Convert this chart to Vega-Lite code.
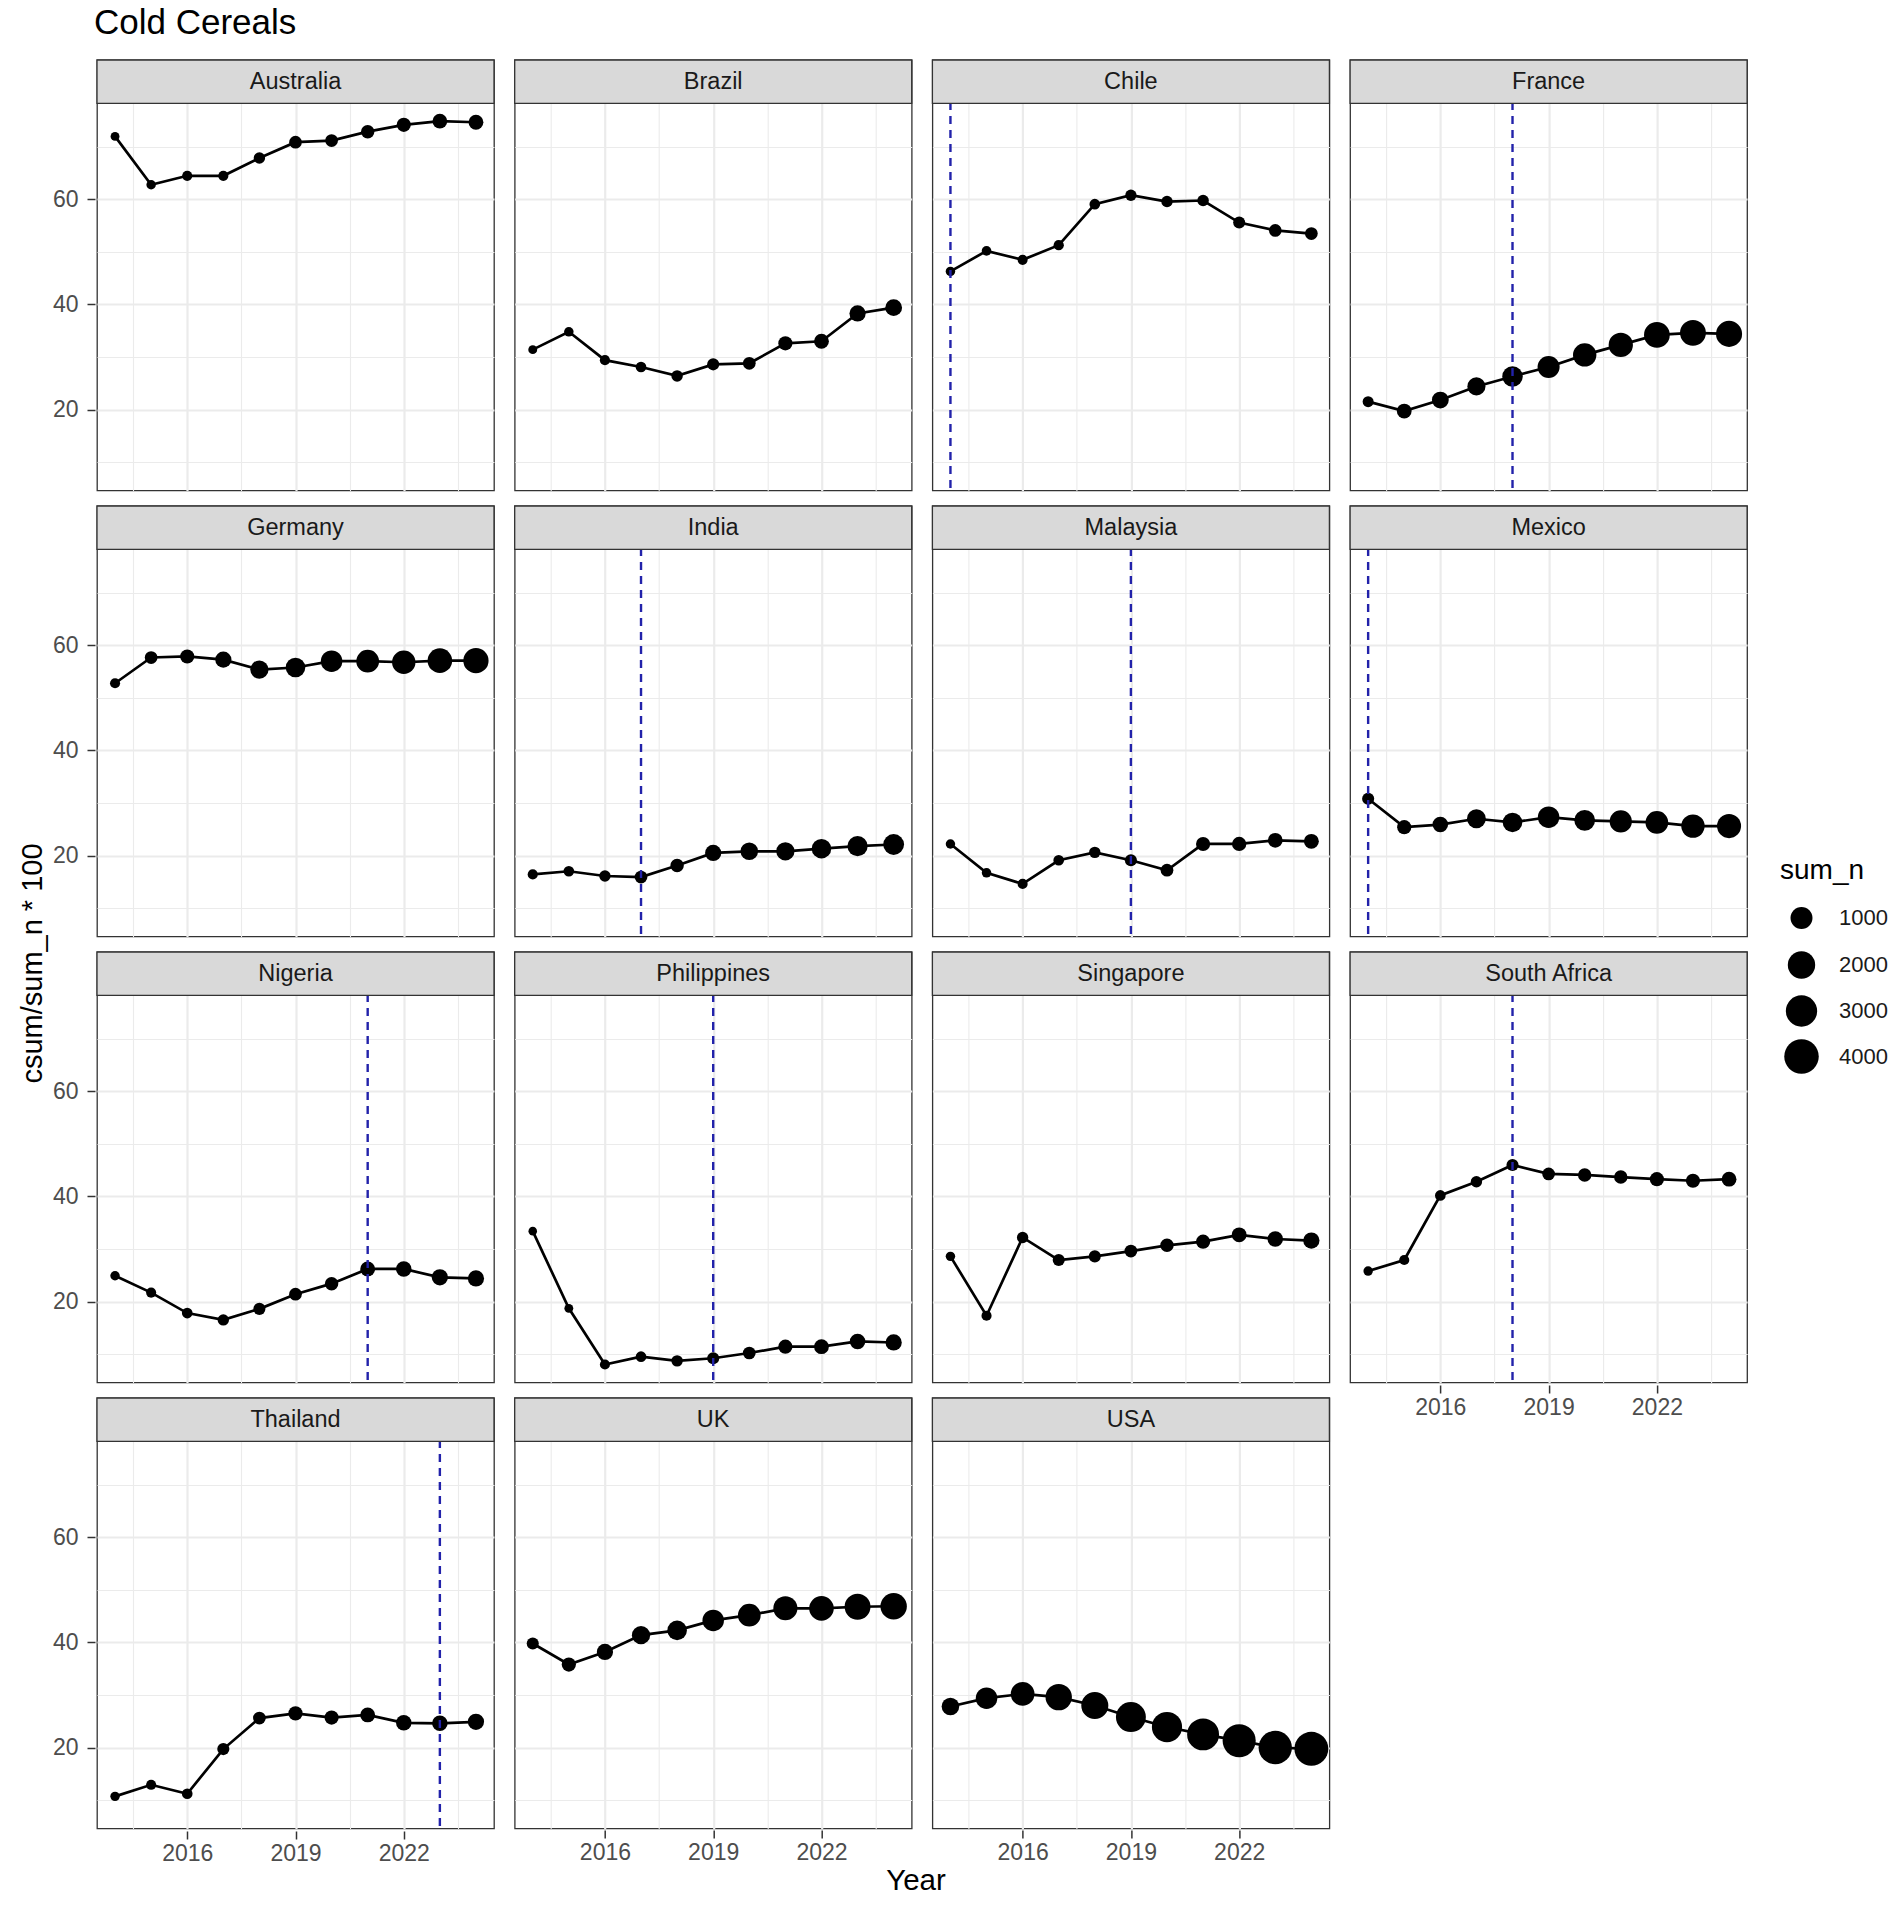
{
  "$schema": "https://vega.github.io/schema/vega-lite/v6.json",
  "background": "white",
  "padding": {"left": 18, "top": 6, "right": 5, "bottom": 5},
  "title": {"text": "Cold Cereals", "anchor": "start", "dx": 76, "fontSize": 35, "font": "Liberation Sans", "fontWeight": "normal", "color": "black", "offset": 17},
  "config": {
    "font": "Liberation Sans",
    "view": {"stroke": "#333333", "strokeWidth": 1.3},
    "headerRow": {"labels": false, "title": null}
  },
  "datasets": {
    "cereal": [
      {"country":"Australia","year":2014,"value":72.0,"sum_n":5,"event":0},
      {"country":"Australia","year":2015,"value":62.8,"sum_n":15,"event":0},
      {"country":"Australia","year":2016,"value":64.5,"sum_n":30,"event":0},
      {"country":"Australia","year":2017,"value":64.5,"sum_n":30,"event":0},
      {"country":"Australia","year":2018,"value":67.9,"sum_n":70,"event":0},
      {"country":"Australia","year":2019,"value":70.9,"sum_n":120,"event":0},
      {"country":"Australia","year":2020,"value":71.2,"sum_n":125,"event":0},
      {"country":"Australia","year":2021,"value":72.9,"sum_n":160,"event":0},
      {"country":"Australia","year":2022,"value":74.2,"sum_n":200,"event":0},
      {"country":"Australia","year":2023,"value":74.9,"sum_n":240,"event":0},
      {"country":"Australia","year":2024,"value":74.7,"sum_n":245,"event":0},
      {"country":"Brazil","year":2014,"value":31.4,"sum_n":5,"event":0},
      {"country":"Brazil","year":2015,"value":34.8,"sum_n":15,"event":0},
      {"country":"Brazil","year":2016,"value":29.4,"sum_n":30,"event":0},
      {"country":"Brazil","year":2017,"value":28.1,"sum_n":45,"event":0},
      {"country":"Brazil","year":2018,"value":26.4,"sum_n":70,"event":0},
      {"country":"Brazil","year":2019,"value":28.6,"sum_n":95,"event":0},
      {"country":"Brazil","year":2020,"value":28.8,"sum_n":125,"event":0},
      {"country":"Brazil","year":2021,"value":32.6,"sum_n":200,"event":0},
      {"country":"Brazil","year":2022,"value":33.0,"sum_n":245,"event":0},
      {"country":"Brazil","year":2023,"value":38.3,"sum_n":350,"event":0},
      {"country":"Brazil","year":2024,"value":39.4,"sum_n":400,"event":0},
      {"country":"Chile","year":2014,"value":46.3,"sum_n":15,"event":1},
      {"country":"Chile","year":2015,"value":50.2,"sum_n":18,"event":0},
      {"country":"Chile","year":2016,"value":48.5,"sum_n":28,"event":0},
      {"country":"Chile","year":2017,"value":51.3,"sum_n":32,"event":0},
      {"country":"Chile","year":2018,"value":59.1,"sum_n":45,"event":0},
      {"country":"Chile","year":2019,"value":60.8,"sum_n":65,"event":0},
      {"country":"Chile","year":2020,"value":59.6,"sum_n":68,"event":0},
      {"country":"Chile","year":2021,"value":59.8,"sum_n":72,"event":0},
      {"country":"Chile","year":2022,"value":55.6,"sum_n":95,"event":0},
      {"country":"Chile","year":2023,"value":54.1,"sum_n":120,"event":0},
      {"country":"Chile","year":2024,"value":53.5,"sum_n":125,"event":0},
      {"country":"France","year":2014,"value":21.5,"sum_n":55,"event":0},
      {"country":"France","year":2015,"value":19.7,"sum_n":245,"event":0},
      {"country":"France","year":2016,"value":21.8,"sum_n":400,"event":0},
      {"country":"France","year":2017,"value":24.4,"sum_n":525,"event":0},
      {"country":"France","year":2018,"value":26.3,"sum_n":800,"event":1},
      {"country":"France","year":2019,"value":28.1,"sum_n":1010,"event":0},
      {"country":"France","year":2020,"value":30.4,"sum_n":1220,"event":0},
      {"country":"France","year":2021,"value":32.3,"sum_n":1380,"event":0},
      {"country":"France","year":2022,"value":34.2,"sum_n":1650,"event":0},
      {"country":"France","year":2023,"value":34.6,"sum_n":1690,"event":0},
      {"country":"France","year":2024,"value":34.4,"sum_n":1720,"event":0},
      {"country":"Germany","year":2014,"value":52.8,"sum_n":29,"event":0},
      {"country":"Germany","year":2015,"value":57.7,"sum_n":124,"event":0},
      {"country":"Germany","year":2016,"value":57.9,"sum_n":203,"event":0},
      {"country":"Germany","year":2017,"value":57.3,"sum_n":350,"event":0},
      {"country":"Germany","year":2018,"value":55.4,"sum_n":536,"event":0},
      {"country":"Germany","year":2019,"value":55.8,"sum_n":679,"event":0},
      {"country":"Germany","year":2020,"value":57.0,"sum_n":931,"event":0},
      {"country":"Germany","year":2021,"value":57.0,"sum_n":1116,"event":0},
      {"country":"Germany","year":2022,"value":56.8,"sum_n":1222,"event":0},
      {"country":"Germany","year":2023,"value":57.1,"sum_n":1433,"event":0},
      {"country":"Germany","year":2024,"value":57.1,"sum_n":1554,"event":0},
      {"country":"India","year":2014,"value":16.4,"sum_n":29,"event":0},
      {"country":"India","year":2015,"value":17.0,"sum_n":45,"event":0},
      {"country":"India","year":2016,"value":16.1,"sum_n":68,"event":0},
      {"country":"India","year":2017,"value":15.9,"sum_n":124,"event":1},
      {"country":"India","year":2018,"value":18.1,"sum_n":161,"event":0},
      {"country":"India","year":2019,"value":20.5,"sum_n":350,"event":0},
      {"country":"India","year":2020,"value":20.8,"sum_n":467,"event":0},
      {"country":"India","year":2021,"value":20.8,"sum_n":536,"event":0},
      {"country":"India","year":2022,"value":21.3,"sum_n":679,"event":0},
      {"country":"India","year":2023,"value":21.8,"sum_n":762,"event":0},
      {"country":"India","year":2024,"value":22.1,"sum_n":838,"event":0},
      {"country":"Malaysia","year":2014,"value":22.2,"sum_n":14,"event":0},
      {"country":"Malaysia","year":2015,"value":16.7,"sum_n":16,"event":0},
      {"country":"Malaysia","year":2016,"value":14.6,"sum_n":28,"event":0},
      {"country":"Malaysia","year":2017,"value":19.1,"sum_n":45,"event":0},
      {"country":"Malaysia","year":2018,"value":20.6,"sum_n":68,"event":0},
      {"country":"Malaysia","year":2019,"value":19.1,"sum_n":95,"event":1},
      {"country":"Malaysia","year":2020,"value":17.2,"sum_n":125,"event":0},
      {"country":"Malaysia","year":2021,"value":22.2,"sum_n":200,"event":0},
      {"country":"Malaysia","year":2022,"value":22.2,"sum_n":210,"event":0},
      {"country":"Malaysia","year":2023,"value":22.9,"sum_n":240,"event":0},
      {"country":"Malaysia","year":2024,"value":22.7,"sum_n":250,"event":0},
      {"country":"Mexico","year":2014,"value":30.8,"sum_n":96,"event":1},
      {"country":"Mexico","year":2015,"value":25.4,"sum_n":203,"event":0},
      {"country":"Mexico","year":2016,"value":25.9,"sum_n":294,"event":0},
      {"country":"Mexico","year":2017,"value":27.0,"sum_n":600,"event":0},
      {"country":"Mexico","year":2018,"value":26.3,"sum_n":679,"event":0},
      {"country":"Mexico","year":2019,"value":27.3,"sum_n":931,"event":0},
      {"country":"Mexico","year":2020,"value":26.7,"sum_n":838,"event":0},
      {"country":"Mexico","year":2021,"value":26.5,"sum_n":1028,"event":0},
      {"country":"Mexico","year":2022,"value":26.3,"sum_n":1116,"event":0},
      {"country":"Mexico","year":2023,"value":25.6,"sum_n":1222,"event":0},
      {"country":"Mexico","year":2024,"value":25.6,"sum_n":1334,"event":0},
      {"country":"Nigeria","year":2014,"value":24.9,"sum_n":14,"event":0},
      {"country":"Nigeria","year":2015,"value":21.7,"sum_n":29,"event":0},
      {"country":"Nigeria","year":2016,"value":17.8,"sum_n":45,"event":0},
      {"country":"Nigeria","year":2017,"value":16.5,"sum_n":68,"event":0},
      {"country":"Nigeria","year":2018,"value":18.6,"sum_n":96,"event":0},
      {"country":"Nigeria","year":2019,"value":21.4,"sum_n":124,"event":0},
      {"country":"Nigeria","year":2020,"value":23.4,"sum_n":161,"event":0},
      {"country":"Nigeria","year":2021,"value":26.2,"sum_n":243,"event":1},
      {"country":"Nigeria","year":2022,"value":26.2,"sum_n":294,"event":0},
      {"country":"Nigeria","year":2023,"value":24.6,"sum_n":350,"event":0},
      {"country":"Nigeria","year":2024,"value":24.4,"sum_n":350,"event":0},
      {"country":"Philippines","year":2014,"value":33.4,"sum_n":1,"event":0},
      {"country":"Philippines","year":2015,"value":18.7,"sum_n":5,"event":0},
      {"country":"Philippines","year":2016,"value":8.0,"sum_n":29,"event":0},
      {"country":"Philippines","year":2017,"value":9.5,"sum_n":45,"event":0},
      {"country":"Philippines","year":2018,"value":8.7,"sum_n":68,"event":0},
      {"country":"Philippines","year":2019,"value":9.2,"sum_n":96,"event":1},
      {"country":"Philippines","year":2020,"value":10.2,"sum_n":124,"event":0},
      {"country":"Philippines","year":2021,"value":11.4,"sum_n":203,"event":0},
      {"country":"Philippines","year":2022,"value":11.4,"sum_n":243,"event":0},
      {"country":"Philippines","year":2023,"value":12.4,"sum_n":294,"event":0},
      {"country":"Philippines","year":2024,"value":12.2,"sum_n":350,"event":0},
      {"country":"Singapore","year":2014,"value":28.6,"sum_n":14,"event":0},
      {"country":"Singapore","year":2015,"value":17.3,"sum_n":29,"event":0},
      {"country":"Singapore","year":2016,"value":32.2,"sum_n":68,"event":0},
      {"country":"Singapore","year":2017,"value":27.9,"sum_n":96,"event":0},
      {"country":"Singapore","year":2018,"value":28.6,"sum_n":96,"event":0},
      {"country":"Singapore","year":2019,"value":29.6,"sum_n":124,"event":0},
      {"country":"Singapore","year":2020,"value":30.7,"sum_n":161,"event":0},
      {"country":"Singapore","year":2021,"value":31.4,"sum_n":203,"event":0},
      {"country":"Singapore","year":2022,"value":32.7,"sum_n":243,"event":0},
      {"country":"Singapore","year":2023,"value":31.9,"sum_n":294,"event":0},
      {"country":"Singapore","year":2024,"value":31.6,"sum_n":350,"event":0},
      {"country":"South Africa","year":2014,"value":25.8,"sum_n":14,"event":0},
      {"country":"South Africa","year":2015,"value":27.9,"sum_n":29,"event":0},
      {"country":"South Africa","year":2016,"value":40.2,"sum_n":45,"event":0},
      {"country":"South Africa","year":2017,"value":42.8,"sum_n":68,"event":0},
      {"country":"South Africa","year":2018,"value":46.0,"sum_n":96,"event":1},
      {"country":"South Africa","year":2019,"value":44.3,"sum_n":124,"event":0},
      {"country":"South Africa","year":2020,"value":44.1,"sum_n":161,"event":0},
      {"country":"South Africa","year":2021,"value":43.7,"sum_n":161,"event":0},
      {"country":"South Africa","year":2022,"value":43.3,"sum_n":203,"event":0},
      {"country":"South Africa","year":2023,"value":43.0,"sum_n":203,"event":0},
      {"country":"South Africa","year":2024,"value":43.3,"sum_n":243,"event":0},
      {"country":"Thailand","year":2014,"value":10.7,"sum_n":14,"event":0},
      {"country":"Thailand","year":2015,"value":12.9,"sum_n":29,"event":0},
      {"country":"Thailand","year":2016,"value":11.2,"sum_n":45,"event":0},
      {"country":"Thailand","year":2017,"value":19.7,"sum_n":96,"event":0},
      {"country":"Thailand","year":2018,"value":25.6,"sum_n":124,"event":0},
      {"country":"Thailand","year":2019,"value":26.5,"sum_n":203,"event":0},
      {"country":"Thailand","year":2020,"value":25.7,"sum_n":203,"event":0},
      {"country":"Thailand","year":2021,"value":26.2,"sum_n":243,"event":0},
      {"country":"Thailand","year":2022,"value":24.7,"sum_n":294,"event":0},
      {"country":"Thailand","year":2023,"value":24.6,"sum_n":294,"event":1},
      {"country":"Thailand","year":2024,"value":24.9,"sum_n":350,"event":0},
      {"country":"UK","year":2014,"value":39.8,"sum_n":96,"event":0},
      {"country":"UK","year":2015,"value":35.8,"sum_n":203,"event":0},
      {"country":"UK","year":2016,"value":38.2,"sum_n":350,"event":0},
      {"country":"UK","year":2017,"value":41.4,"sum_n":536,"event":0},
      {"country":"UK","year":2018,"value":42.3,"sum_n":679,"event":0},
      {"country":"UK","year":2019,"value":44.2,"sum_n":931,"event":0},
      {"country":"UK","year":2020,"value":45.2,"sum_n":1116,"event":0},
      {"country":"UK","year":2021,"value":46.5,"sum_n":1334,"event":0},
      {"country":"UK","year":2022,"value":46.5,"sum_n":1433,"event":0},
      {"country":"UK","year":2023,"value":46.8,"sum_n":1680,"event":0},
      {"country":"UK","year":2024,"value":46.9,"sum_n":1790,"event":0},
      {"country":"USA","year":2014,"value":27.8,"sum_n":470,"event":0},
      {"country":"USA","year":2015,"value":29.4,"sum_n":930,"event":0},
      {"country":"USA","year":2016,"value":30.2,"sum_n":1270,"event":0},
      {"country":"USA","year":2017,"value":29.6,"sum_n":1790,"event":0},
      {"country":"USA","year":2018,"value":28.0,"sum_n":1925,"event":0},
      {"country":"USA","year":2019,"value":25.8,"sum_n":2620,"event":0},
      {"country":"USA","year":2020,"value":23.9,"sum_n":2690,"event":0},
      {"country":"USA","year":2021,"value":22.5,"sum_n":3175,"event":0},
      {"country":"USA","year":2022,"value":21.3,"sum_n":3535,"event":0},
      {"country":"USA","year":2023,"value":20.0,"sum_n":3615,"event":0},
      {"country":"USA","year":2024,"value":19.75,"sum_n":3805,"event":0}
    ]
  },
  "spacing": 4,
  "hconcat": [
    {
      "data": {"values": [{"label": "csum/sum_n * 100"}]},
      "width": 30,
      "height": 1807,
      "view": {"stroke": null},
      "mark": {"type": "text", "angle": 270, "fontSize": 29, "color": "black", "align": "center", "baseline": "middle"},
      "encoding": {"text": {"field": "label", "type": "nominal"}}
    },
    {
      "spacing": 1,
      "vconcat": [
        {
          "spacing": 16.7,
          "hconcat": [
            {
              "data": {"name": "cereal"},
              "transform": [{"filter": {"field": "country", "oneOf": ["Australia", "Germany", "Nigeria", "Thailand"]}}],
              "facet": {"row": {"field": "country", "type": "nominal", "header": {"title": null, "labels": false}}},
              "spacing": {"row": 11},
              "spec": {
                "width": 397, "height": 430.4,
                "layer": [
                  {"mark": {"type": "line", "color": "black", "strokeWidth": 2.7},
                   "encoding": {
                     "x": {"field": "year", "type": "quantitative", "title": null, "scale": {"domain": [2013.5, 2024.5], "nice": false, "zero": false},
                       "axis": {"values": [2014.5, 2016, 2017.5, 2019, 2020.5, 2022, 2023.5], "format": "d", "labelExpr": "datum.value % 1 === 0 ? datum.label : ''", "domain": false, "tickSize": 8, "tickWidth": 1.5, "tickColor": {"condition": {"test": "datum.value % 1 === 0", "value": "#333333"}, "value": "transparent"}, "gridColor": "#EBEBEB", "gridWidth": {"condition": {"test": "datum.value % 1 === 0", "value": 2.2}, "value": 1.1}, "labelFontSize": 23, "labelColor": "#4D4D4D", "labelPadding": 3, "labelFlush": false, "labelOverlap": false}},
                     "y": {"field": "value", "type": "quantitative", "title": null, "scale": {"domain": [4.6, 86.55], "nice": false, "zero": false},
                       "axis": {"values": [10, 20, 30, 40, 50, 60, 70], "labelExpr": "datum.value % 20 === 0 ? datum.label : ''", "domain": false, "tickSize": 8, "tickWidth": 1.5, "tickColor": {"condition": {"test": "datum.value % 20 === 0", "value": "#333333"}, "value": "transparent"}, "gridColor": "#EBEBEB", "gridWidth": {"condition": {"test": "datum.value % 20 === 0", "value": 2.2}, "value": 1.1}, "labelFontSize": 23, "labelColor": "#4D4D4D", "labelPadding": 9, "labelOverlap": false}}
                   }},
                  {"mark": {"type": "circle", "color": "black", "opacity": 1},
                   "encoding": {
                     "x": {"field": "year", "type": "quantitative"},
                     "y": {"field": "value", "type": "quantitative"},
                     "size": {"field": "sum_n", "type": "quantitative", "scale": {"type": "pow", "exponent": 0.72, "domain": [0, 4300], "range": [70, 1250]},
                       "legend": {"title": "sum_n", "values": [1000, 2000, 3000, 4000], "format": "d", "orient": "none", "legendX": 1762, "legendY": 797, "titleFontSize": 28, "titleFontWeight": "normal", "titleColor": "black", "titlePadding": 22, "labelFontSize": 22, "labelColor": "#1A1A1A", "labelOffset": 20, "symbolOffset": 4, "gridAlign": "all", "rowPadding": 9, "symbolStrokeWidth": 0, "symbolFillColor": "black"}}
                   }},
                  {"transform": [{"filter": "datum.event == 1"}], "mark": {"type": "rule", "color": "#2222AA", "strokeDash": [8, 6], "strokeWidth": 2.4}, "encoding": {"x": {"field": "year", "type": "quantitative"}}},
                  {"transform": [{"filter": "datum.year == 2014"}], "mark": {"type": "rect", "fill": "#D9D9D9", "stroke": "#333333", "strokeWidth": 1.3},
                   "encoding": {"x": {"datum": 2013.5, "type": "quantitative"}, "x2": {"datum": 2024.5}, "y": {"datum": 86.55, "type": "quantitative"}, "y2": {"datum": 78.3}}},
                  {"transform": [{"filter": "datum.year == 2014"}], "mark": {"type": "text", "fontSize": 23.5, "color": "#1A1A1A", "align": "center", "baseline": "middle"},
                   "encoding": {"x": {"datum": 2019, "type": "quantitative"}, "y": {"datum": 82.43, "type": "quantitative"}, "text": {"field": "country", "type": "nominal"}}}
                ]
              }
            },
            {
              "data": {"name": "cereal"},
              "transform": [{"filter": {"field": "country", "oneOf": ["Brazil", "India", "Philippines", "UK"]}}],
              "facet": {"row": {"field": "country", "type": "nominal", "header": {"title": null, "labels": false}}},
              "spacing": {"row": 11},
              "spec": {
                "width": 397, "height": 430.4,
                "layer": [
                  {"mark": {"type": "line", "color": "black", "strokeWidth": 2.7},
                   "encoding": {
                     "x": {"field": "year", "type": "quantitative", "title": null, "scale": {"domain": [2013.5, 2024.5], "nice": false, "zero": false},
                       "axis": {"values": [2014.5, 2016, 2017.5, 2019, 2020.5, 2022, 2023.5], "format": "d", "labelExpr": "datum.value % 1 === 0 ? datum.label : ''", "domain": false, "tickSize": 8, "tickWidth": 1.5, "tickColor": {"condition": {"test": "datum.value % 1 === 0", "value": "#333333"}, "value": "transparent"}, "gridColor": "#EBEBEB", "gridWidth": {"condition": {"test": "datum.value % 1 === 0", "value": 2.2}, "value": 1.1}, "labelFontSize": 23, "labelColor": "#4D4D4D", "labelPadding": 3, "labelFlush": false, "labelOverlap": false}},
                     "y": {"field": "value", "type": "quantitative", "title": null, "scale": {"domain": [4.6, 86.55], "nice": false, "zero": false},
                       "axis": {"values": [10, 20, 30, 40, 50, 60, 70], "labels": false, "ticks": false, "domain": false, "gridColor": "#EBEBEB", "gridWidth": {"condition": {"test": "datum.value % 20 === 0", "value": 2.2}, "value": 1.1}}}
                   }},
                  {"mark": {"type": "circle", "color": "black", "opacity": 1},
                   "encoding": {
                     "x": {"field": "year", "type": "quantitative"},
                     "y": {"field": "value", "type": "quantitative"},
                     "size": {"field": "sum_n", "type": "quantitative", "scale": {"type": "pow", "exponent": 0.72, "domain": [0, 4300], "range": [70, 1250]},
                       "legend": {"title": "sum_n", "values": [1000, 2000, 3000, 4000], "format": "d", "orient": "none", "legendX": 1762, "legendY": 797, "titleFontSize": 28, "titleFontWeight": "normal", "titleColor": "black", "titlePadding": 22, "labelFontSize": 22, "labelColor": "#1A1A1A", "labelOffset": 20, "symbolOffset": 4, "gridAlign": "all", "rowPadding": 9, "symbolStrokeWidth": 0, "symbolFillColor": "black"}}
                   }},
                  {"transform": [{"filter": "datum.event == 1"}], "mark": {"type": "rule", "color": "#2222AA", "strokeDash": [8, 6], "strokeWidth": 2.4}, "encoding": {"x": {"field": "year", "type": "quantitative"}}},
                  {"transform": [{"filter": "datum.year == 2014"}], "mark": {"type": "rect", "fill": "#D9D9D9", "stroke": "#333333", "strokeWidth": 1.3},
                   "encoding": {"x": {"datum": 2013.5, "type": "quantitative"}, "x2": {"datum": 2024.5}, "y": {"datum": 86.55, "type": "quantitative"}, "y2": {"datum": 78.3}}},
                  {"transform": [{"filter": "datum.year == 2014"}], "mark": {"type": "text", "fontSize": 23.5, "color": "#1A1A1A", "align": "center", "baseline": "middle"},
                   "encoding": {"x": {"datum": 2019, "type": "quantitative"}, "y": {"datum": 82.43, "type": "quantitative"}, "text": {"field": "country", "type": "nominal"}}}
                ]
              }
            },
            {
              "data": {"name": "cereal"},
              "transform": [{"filter": {"field": "country", "oneOf": ["Chile", "Malaysia", "Singapore", "USA"]}}],
              "facet": {"row": {"field": "country", "type": "nominal", "header": {"title": null, "labels": false}}},
              "spacing": {"row": 11},
              "spec": {
                "width": 397, "height": 430.4,
                "layer": [
                  {"mark": {"type": "line", "color": "black", "strokeWidth": 2.7},
                   "encoding": {
                     "x": {"field": "year", "type": "quantitative", "title": null, "scale": {"domain": [2013.5, 2024.5], "nice": false, "zero": false},
                       "axis": {"values": [2014.5, 2016, 2017.5, 2019, 2020.5, 2022, 2023.5], "format": "d", "labelExpr": "datum.value % 1 === 0 ? datum.label : ''", "domain": false, "tickSize": 8, "tickWidth": 1.5, "tickColor": {"condition": {"test": "datum.value % 1 === 0", "value": "#333333"}, "value": "transparent"}, "gridColor": "#EBEBEB", "gridWidth": {"condition": {"test": "datum.value % 1 === 0", "value": 2.2}, "value": 1.1}, "labelFontSize": 23, "labelColor": "#4D4D4D", "labelPadding": 3, "labelFlush": false, "labelOverlap": false}},
                     "y": {"field": "value", "type": "quantitative", "title": null, "scale": {"domain": [4.6, 86.55], "nice": false, "zero": false},
                       "axis": {"values": [10, 20, 30, 40, 50, 60, 70], "labels": false, "ticks": false, "domain": false, "gridColor": "#EBEBEB", "gridWidth": {"condition": {"test": "datum.value % 20 === 0", "value": 2.2}, "value": 1.1}}}
                   }},
                  {"mark": {"type": "circle", "color": "black", "opacity": 1},
                   "encoding": {
                     "x": {"field": "year", "type": "quantitative"},
                     "y": {"field": "value", "type": "quantitative"},
                     "size": {"field": "sum_n", "type": "quantitative", "scale": {"type": "pow", "exponent": 0.72, "domain": [0, 4300], "range": [70, 1250]},
                       "legend": {"title": "sum_n", "values": [1000, 2000, 3000, 4000], "format": "d", "orient": "none", "legendX": 1762, "legendY": 797, "titleFontSize": 28, "titleFontWeight": "normal", "titleColor": "black", "titlePadding": 22, "labelFontSize": 22, "labelColor": "#1A1A1A", "labelOffset": 20, "symbolOffset": 4, "gridAlign": "all", "rowPadding": 9, "symbolStrokeWidth": 0, "symbolFillColor": "black"}}
                   }},
                  {"transform": [{"filter": "datum.event == 1"}], "mark": {"type": "rule", "color": "#2222AA", "strokeDash": [8, 6], "strokeWidth": 2.4}, "encoding": {"x": {"field": "year", "type": "quantitative"}}},
                  {"transform": [{"filter": "datum.year == 2014"}], "mark": {"type": "rect", "fill": "#D9D9D9", "stroke": "#333333", "strokeWidth": 1.3},
                   "encoding": {"x": {"datum": 2013.5, "type": "quantitative"}, "x2": {"datum": 2024.5}, "y": {"datum": 86.55, "type": "quantitative"}, "y2": {"datum": 78.3}}},
                  {"transform": [{"filter": "datum.year == 2014"}], "mark": {"type": "text", "fontSize": 23.5, "color": "#1A1A1A", "align": "center", "baseline": "middle"},
                   "encoding": {"x": {"datum": 2019, "type": "quantitative"}, "y": {"datum": 82.43, "type": "quantitative"}, "text": {"field": "country", "type": "nominal"}}}
                ]
              }
            },
            {
              "data": {"name": "cereal"},
              "transform": [{"filter": {"field": "country", "oneOf": ["France", "Mexico", "South Africa"]}}],
              "facet": {"row": {"field": "country", "type": "nominal", "header": {"title": null, "labels": false}}},
              "spacing": {"row": 11},
              "spec": {
                "width": 397, "height": 430.4,
                "layer": [
                  {"mark": {"type": "line", "color": "black", "strokeWidth": 2.7},
                   "encoding": {
                     "x": {"field": "year", "type": "quantitative", "title": null, "scale": {"domain": [2013.5, 2024.5], "nice": false, "zero": false},
                       "axis": {"values": [2014.5, 2016, 2017.5, 2019, 2020.5, 2022, 2023.5], "format": "d", "labelExpr": "datum.value % 1 === 0 ? datum.label : ''", "domain": false, "tickSize": 8, "tickWidth": 1.5, "tickColor": {"condition": {"test": "datum.value % 1 === 0", "value": "#333333"}, "value": "transparent"}, "gridColor": "#EBEBEB", "gridWidth": {"condition": {"test": "datum.value % 1 === 0", "value": 2.2}, "value": 1.1}, "labelFontSize": 23, "labelColor": "#4D4D4D", "labelPadding": 3, "labelFlush": false, "labelOverlap": false}},
                     "y": {"field": "value", "type": "quantitative", "title": null, "scale": {"domain": [4.6, 86.55], "nice": false, "zero": false},
                       "axis": {"values": [10, 20, 30, 40, 50, 60, 70], "labels": false, "ticks": false, "domain": false, "gridColor": "#EBEBEB", "gridWidth": {"condition": {"test": "datum.value % 20 === 0", "value": 2.2}, "value": 1.1}}}
                   }},
                  {"mark": {"type": "circle", "color": "black", "opacity": 1},
                   "encoding": {
                     "x": {"field": "year", "type": "quantitative"},
                     "y": {"field": "value", "type": "quantitative"},
                     "size": {"field": "sum_n", "type": "quantitative", "scale": {"type": "pow", "exponent": 0.72, "domain": [0, 4300], "range": [70, 1250]},
                       "legend": {"title": "sum_n", "values": [1000, 2000, 3000, 4000], "format": "d", "orient": "none", "legendX": 1762, "legendY": 797, "titleFontSize": 28, "titleFontWeight": "normal", "titleColor": "black", "titlePadding": 22, "labelFontSize": 22, "labelColor": "#1A1A1A", "labelOffset": 20, "symbolOffset": 4, "gridAlign": "all", "rowPadding": 9, "symbolStrokeWidth": 0, "symbolFillColor": "black"}}
                   }},
                  {"transform": [{"filter": "datum.event == 1"}], "mark": {"type": "rule", "color": "#2222AA", "strokeDash": [8, 6], "strokeWidth": 2.4}, "encoding": {"x": {"field": "year", "type": "quantitative"}}},
                  {"transform": [{"filter": "datum.year == 2014"}], "mark": {"type": "rect", "fill": "#D9D9D9", "stroke": "#333333", "strokeWidth": 1.3},
                   "encoding": {"x": {"datum": 2013.5, "type": "quantitative"}, "x2": {"datum": 2024.5}, "y": {"datum": 86.55, "type": "quantitative"}, "y2": {"datum": 78.3}}},
                  {"transform": [{"filter": "datum.year == 2014"}], "mark": {"type": "text", "fontSize": 23.5, "color": "#1A1A1A", "align": "center", "baseline": "middle"},
                   "encoding": {"x": {"datum": 2019, "type": "quantitative"}, "y": {"datum": 82.43, "type": "quantitative"}, "text": {"field": "country", "type": "nominal"}}}
                ]
              }
            }
          ]
        },
        {
          "data": {"values": [{"label": "Year"}]},
          "width": 1638,
          "height": 30,
          "view": {"stroke": null},
          "mark": {"type": "text", "fontSize": 29.5, "color": "black", "align": "center", "baseline": "middle"},
          "encoding": {"text": {"field": "label", "type": "nominal"}}
        }
      ]
    }
  ]
}
